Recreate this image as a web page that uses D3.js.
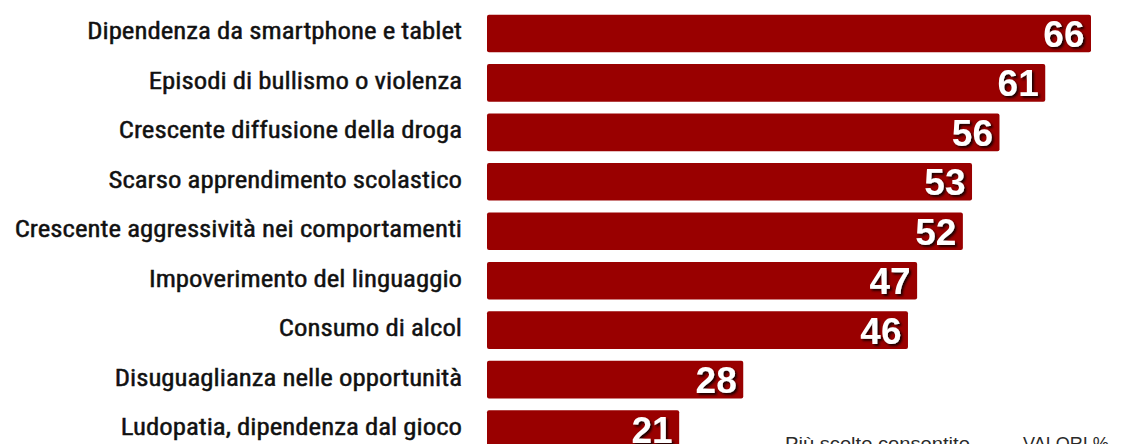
<!DOCTYPE html>
<html>
<head>
<meta charset="utf-8">
<script src="https://cdn.jsdelivr.net/npm/d3@7"></script>
<style>
  html, body { margin: 0; padding: 0; background: #fff; }
  svg { display: block; }
</style>
</head>
<body>
<svg id="chart" width="1136" height="444"></svg>
<script>
// Problems seen among young people (multiple answers, % values)
const categories = [
  "Dipendenza da smartphone e tablet",
  "Episodi di bullismo o violenza",
  "Crescente diffusione della droga",
  "Scarso apprendimento scolastico",
  "Crescente aggressività nei comportamenti",
  "Impoverimento del linguaggio",
  "Consumo di alcol",
  "Disuguaglianza nelle opportunità",
  "Ludopatia, dipendenza dal gioco"
];
const values = [66, 61, 56, 53, 52, 47, 46, 28, 21];
const notes = ["Più scelte consentite", "VALORI %"];

const svg = d3.select("#chart");

const x = d3.scaleLinear().domain([0, 66]).range([487, 1091]);
const y = d3.scaleBand()
  .domain(categories)
  .range([8.7, 453.8])
  .paddingInner(0.24)
  .paddingOuter(0.12);
const bw = y.bandwidth();

// soft dark shadow behind the white value labels
const defs = svg.append("defs");
defs.append("filter")
  .attr("id", "labelShadow")
  .attr("x", "-20%").attr("y", "-20%")
  .attr("width", "150%").attr("height", "150%")
  .append("feDropShadow")
  .attr("dx", 2).attr("dy", 2)
  .attr("stdDeviation", 0.9)
  .attr("flood-color", "#140000")
  .attr("flood-opacity", 0.95);

const rows = categories.map((c, i) => ({ c, v: values[i] }));

// bars
svg.append("g").selectAll("rect")
  .data(rows)
  .join("rect")
  .attr("x", x(0))
  .attr("y", d => y(d.c))
  .attr("width", d => x(d.v) - x(0))
  .attr("height", bw)
  .attr("rx", 2)
  .attr("fill", "#990000");

// value labels inside the bar ends
svg.append("g").selectAll("text")
  .data(rows)
  .join("text")
  .attr("x", d => x(d.v) - 6.5)
  .attr("y", d => y(d.c) + bw / 2 + 13.5)
  .attr("text-anchor", "end")
  .attr("fill", "#fff")
  .attr("filter", "url(#labelShadow)")
  .style("font-family", "'Liberation Sans', Arial, sans-serif")
  .style("font-weight", "bold")
  .style("font-size", "37px")
  .text(d => d.v);

// category labels, right-aligned against the bars
const axis = svg.append("g")
  .attr("transform", "translate(462,0)")
  .call(d3.axisLeft(y).tickSize(0).tickPadding(0));
axis.select(".domain").remove();
const labels = axis.selectAll(".tick text")
  .attr("x", 0)
  .attr("y", 0)
  .attr("dy", null)
  .attr("fill", "#111")
  .attr("stroke", "#111")
  .attr("stroke-width", 0.45)
  .style("font-family", "'Liberation Sans Narrow', 'Roboto Condensed', 'Liberation Sans', Arial, sans-serif")
  .style("font-size", "24.5px")
  .style("font-weight", "normal");
// condense the labels so the first one spans its set width
const w0 = labels.nodes()[0].getComputedTextLength();
const k = 375 / w0;
labels.attr("transform", `translate(0,6) scale(${k},1)`);

// footnotes along the bottom edge
const noteG = svg.append("g")
  .attr("fill", "#2a2a2a")
  .style("font-family", "'Liberation Sans', Arial, sans-serif")
  .style("font-size", "19px");
const noteSpecs = [
  { t: notes[0], x: 785, w: 185 },
  { t: notes[1], x: 1023, w: 86 }
];
noteSpecs.forEach(s => {
  const t = noteG.append("text").attr("x", 0).attr("y", 0).text(s.t);
  const kw = s.w / t.node().getComputedTextLength();
  t.attr("transform", `translate(${s.x},449.5) scale(${kw},1)`);
});
</script>
</body>
</html>
